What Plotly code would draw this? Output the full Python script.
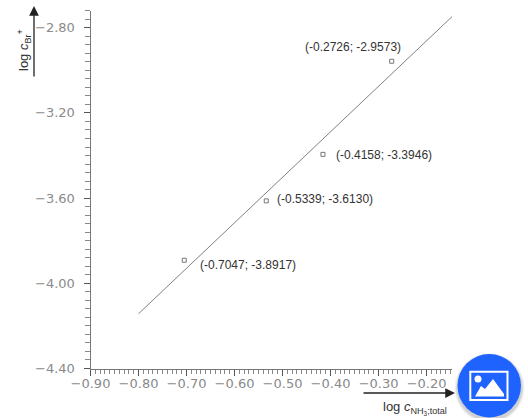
import plotly.graph_objects as go

# Data
point_x = [-0.7047, -0.5339, -0.4158, -0.2726]
point_y = [-3.8917, -3.6130, -3.3946, -2.9573]
fit_x = [-0.80, -0.147]
fit_y = [-4.143, -2.748]
label_shift_x = [14, 9, 11, -89]
label_shift_y = [-5, 2, -1, 14]
x_tick_labels = ["−0.90", "−0.80", "−0.70", "−0.60", "−0.50", "−0.40", "−0.30", "−0.20"]
y_tick_labels = ["−4.40", "−4.00", "−3.60", "−3.20", "−2.80"]
x_tick_values = [-0.90, -0.80, -0.70, -0.60, -0.50, -0.40, -0.30, -0.20]
y_tick_values = [-4.40, -4.00, -3.60, -3.20, -2.80]

W, H = 528, 418
TICK = "#8a8a8a"
AXIS = "#777777"
TEXT = "#333333"


def px(x):
    return x / W


def py(y):
    return 1 - y / H


fig = go.Figure()
fig.add_trace(go.Scatter(x=fit_x, y=fit_y, mode="lines",
                         line=dict(color="#808080", width=1), showlegend=False,
                         hoverinfo="skip"))
fig.add_trace(go.Scatter(x=point_x, y=point_y, mode="markers",
                         marker=dict(symbol="square-open", size=4,
                                     color="#777777", line=dict(width=1)),
                         showlegend=False))

annotations = []
for x, y, dx, dy in zip(point_x, point_y, label_shift_x, label_shift_y):
    annotations.append(dict(x=x, y=y, xref="x", yref="y", xanchor="left", yanchor="middle",
                            text=f"({x:.4f}; {y:.4f})", showarrow=False,
                            xshift=dx, yshift=dy,
                            font=dict(family="Liberation Sans", size=12, color=TEXT)))

# Axis captions and arrows
annotations.append(dict(x=px(24), y=py(50), xref="paper", yref="paper", textangle=-90,
                        xanchor="center", yanchor="middle",
                        text="log <i>c</i><sub>Br</sub><sup>+</sup>", showarrow=False,
                        font=dict(family="Liberation Sans", size=13, color=TEXT)))
annotations.append(dict(x=px(415), y=py(408), xref="paper", yref="paper",
                        xanchor="center", yanchor="middle",
                        text="log <i>c</i><sub>NH<sub>3</sub>;total</sub>", showarrow=False,
                        font=dict(family="Liberation Sans", size=13, color=TEXT)))
annotations.append(dict(x=px(34), y=py(6), xref="paper", yref="paper", axref="pixel", ayref="pixel",
                        ax=0, ay=72, showarrow=True, text="", arrowhead=2, arrowsize=1.5,
                        arrowwidth=1.3, arrowcolor="#222222"))
annotations.append(dict(x=px(455), y=py(393), xref="paper", yref="paper", axref="pixel", ayref="pixel",
                        ax=-93, ay=0, showarrow=True, text="", arrowhead=2, arrowsize=1.5,
                        arrowwidth=1.3, arrowcolor="#222222"))

# Blue image badge in the lower right corner
shapes = []
for r, op in [(35, 0.05), (34, 0.06), (33, 0.08)]:
    shapes.append(dict(type="circle", xref="paper", yref="paper",
                       x0=px(489.5 - r), x1=px(489.5 + r), y0=py(388 + r), y1=py(388 - r),
                       fillcolor="#000000", opacity=op, line=dict(width=0)))
shapes.append(dict(type="circle", xref="paper", yref="paper",
                   x0=px(457.5), x1=px(521), y0=py(417.5), y1=py(354),
                   fillcolor="#1f63ff", line=dict(width=0)))
shapes.append(dict(type="rect", xref="paper", yref="paper",
                   x0=px(470.3), x1=px(507.5), y0=py(400), y1=py(371.7),
                   line=dict(color="white", width=2), fillcolor="rgba(0,0,0,0)"))
shapes.append(dict(type="circle", xref="paper", yref="paper",
                   x0=px(474.5), x1=px(481.5), y0=py(382.5), y1=py(375.5),
                   fillcolor="white", line=dict(width=0)))
mountain = [(475, 396.5), (481, 386), (485, 389), (493, 379), (504, 394), (504, 396.5)]
path = "M " + " L ".join(f"{px(a):.5f},{py(b):.5f}" for a, b in mountain) + " Z"
shapes.append(dict(type="path", xref="paper", yref="paper", path=path,
                   fillcolor="white", line=dict(width=0)))

tick_font = dict(family="DejaVu Sans", size=13, color=TICK)
fig.update_layout(
    width=W, height=H, autosize=False,
    margin=dict(l=0, r=0, t=0, b=0, pad=0, autoexpand=False),
    paper_bgcolor="white", plot_bgcolor="white",
    showlegend=False,
    annotations=annotations, shapes=shapes,
    xaxis=dict(domain=[px(90.5), px(452)], range=[-0.90, -0.147], automargin=False,
               tickmode="array", tickvals=x_tick_values, ticktext=x_tick_labels,
               ticks="outside", ticklen=6, tickcolor="#555555", tickwidth=1,
               minor=dict(dtick=0.01, tick0=-0.9, ticks="outside", ticklen=4,
                          tickcolor="#888888", tickwidth=1),
               showgrid=False, zeroline=False, showline=True, linecolor=AXIS, linewidth=1,
               tickfont=tick_font, ticklabelstandoff=-3),
    yaxis=dict(domain=[py(368.5), py(10.7)], range=[-4.40, -2.72], automargin=False,
               tickmode="array", tickvals=y_tick_values, ticktext=y_tick_labels,
               ticks="outside", ticklen=6, tickcolor="#555555", tickwidth=1,
               minor=dict(dtick=0.04, tick0=-4.4, ticks="outside", ticklen=5,
                          tickcolor="#888888", tickwidth=1),
               showgrid=False, zeroline=False, showline=True, linecolor=AXIS, linewidth=1,
               tickfont=tick_font, ticklabelstandoff=6),
)
fig.write_html("out.html", config=dict(displayModeBar=False),
               post_script="document.body.style.margin='0';document.documentElement.style.overflow='hidden';")
